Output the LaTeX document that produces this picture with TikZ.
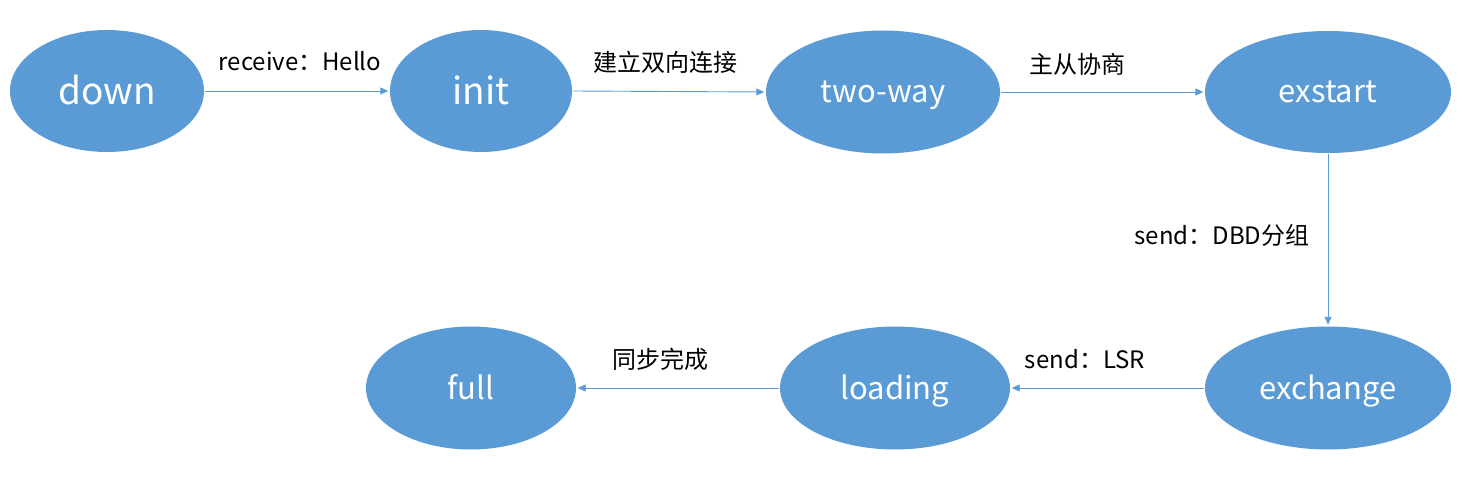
\documentclass[tikz,border=0pt]{standalone}
\usepackage{fontspec}
\setmainfont{Noto Sans CJK SC}
\usetikzlibrary{shapes.geometric,arrows.meta}
\definecolor{nodeblue}{HTML}{5B9BD5}
\begin{document}
\begin{tikzpicture}[x=1pt,y=-1pt,
  state/.style={ellipse,fill=nodeblue,draw=none,inner sep=0pt,text=white,text height=22pt,text depth=0pt,font=\fontsize{31}{31}\selectfont},
  big/.style={font=\fontsize{37}{37}\selectfont,text height=27pt},
  conn/.style={draw=nodeblue,line width=0.9pt,-{Triangle[length=8pt,width=7pt]},shorten >=1.5pt,shorten <=1pt},
  lbl/.style={font=\fontsize{24}{24}\selectfont,text=black,inner sep=0pt}]
\useasboundingbox (0,0) rectangle (1465,481);
\node[state,big,minimum width=194pt,minimum height=122pt] (down) at (107,91) {down};
\node[state,big,minimum width=182pt,minimum height=122pt] (init) at (481,91) {init};
\node[state,minimum width=234pt,minimum height=123pt] (two) at (883,92) {two-way};
\node[state,minimum width=246pt,minimum height=122pt] (exstart) at (1328,92) {exstart};
\node[state,minimum width=246pt,minimum height=123pt] (exchange) at (1328,388) {exchange};
\node[state,minimum width=230pt,minimum height=123pt] (loading) at (895,388) {loading};
\node[state,minimum width=210pt,minimum height=123pt] (full) at (471,388) {full};

\draw[conn] (down.east) -- (init.west);
\draw[conn] (init.east) -- (two.west);
\draw[conn] (two.east) -- (exstart.west);
\draw[conn] (exstart.south) -- (exchange.north);
\draw[conn] (exchange.west) -- (loading.east);
\draw[conn] (loading.west) -- (full.east);

\node[lbl] (l1) at (300,61) {receive：Hello};
\node[lbl] (l2) at (665,62) {建立双向连接};
\node[lbl] (l3) at (1077,64) {主从协商};
\node[lbl] (l4) at (1222,235) {send：DBD分组};
\node[lbl] (l5) at (1085,359) {send：LSR};
\node[lbl] (l6) at (660,359) {同步完成};
\end{tikzpicture}
\end{document}
